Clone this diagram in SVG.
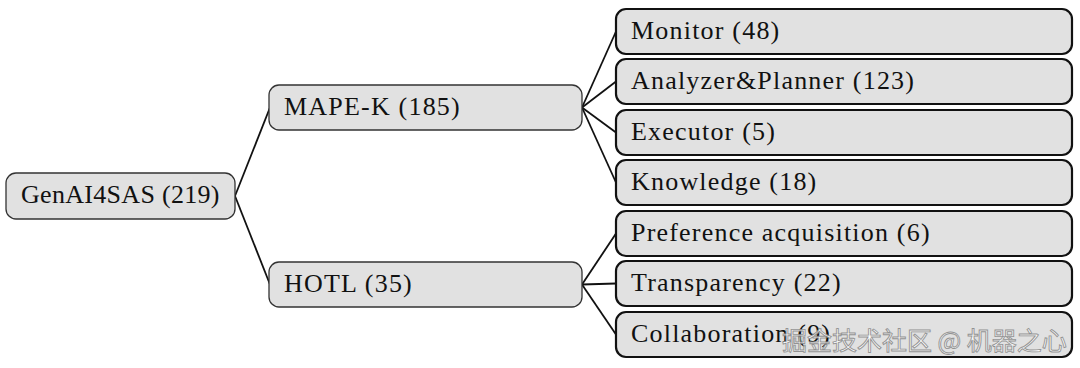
<svg xmlns="http://www.w3.org/2000/svg" width="1080" height="368" viewBox="0 0 1080 368">
<style>
.bg{fill:#ffffff}
.n1{fill:#e1e1e1;stroke:#333333;stroke-width:1.3}
.n2{fill:#e1e1e1;stroke:#111111;stroke-width:2.2}
.t{font-family:"Liberation Serif","Times New Roman",serif;font-size:26px;fill:#111111;letter-spacing:1.2px}
.c{stroke:#111111;stroke-width:1.8;fill:none}
.wm{font-family:"Noto Sans CJK SC","Noto Sans",sans-serif;font-size:25px;fill:#ffffff;stroke:#8a8a8a;stroke-width:0.9;opacity:0.9}
</style>
<rect class="bg" x="0" y="0" width="1080" height="368"/>
<g id="connectors">
<path class="c" d="M235 196 L270 107.5"/>
<path class="c" d="M235 196 L270 284.5"/>
<path class="c" d="M582 107.5 L616 31.5"/>
<path class="c" d="M582 107.5 L616 81.5"/>
<path class="c" d="M582 107.5 L616 132.5"/>
<path class="c" d="M582 107.5 L616 182.5"/>
<path class="c" d="M582 284.5 L616 233.5"/>
<path class="c" d="M582 284.5 L616 283.5"/>
<path class="c" d="M582 284.5 L616 334.5"/>
</g>
<g id="root"><rect class="n1" x="6" y="173" width="229" height="46" rx="10"/><text class="t" x="21" y="203" style="letter-spacing:0.3px">GenAI4SAS (219)</text></g>
<g id="mapek"><rect class="n1" x="269" y="85" width="313" height="45" rx="10"/><text class="t" x="284" y="115">MAPE-K (185)</text></g>
<g id="hotl"><rect class="n1" x="269" y="262" width="313" height="45" rx="10"/><text class="t" x="284" y="292">HOTL (35)</text></g>
<g id="monitor"><rect class="n2" x="616" y="9" width="456" height="45" rx="10"/><text class="t" x="631" y="38.5">Monitor (48)</text></g>
<g id="analyzer"><rect class="n2" x="616" y="59" width="456" height="45" rx="10"/><text class="t" x="631" y="88.5">Analyzer&amp;Planner (123)</text></g>
<g id="executor"><rect class="n2" x="616" y="110" width="456" height="45" rx="10"/><text class="t" x="631" y="139.5">Executor (5)</text></g>
<g id="knowledge"><rect class="n2" x="616" y="160" width="456" height="45" rx="10"/><text class="t" x="631" y="189.5">Knowledge (18)</text></g>
<g id="preference"><rect class="n2" x="616" y="211" width="456" height="45" rx="10"/><text class="t" x="631" y="240.5">Preference acquisition (6)</text></g>
<g id="transparency"><rect class="n2" x="616" y="261" width="456" height="45" rx="10"/><text class="t" x="631" y="290.5">Transparency (22)</text></g>
<g id="collaboration"><rect class="n2" x="616" y="312" width="456" height="45" rx="10"/><text class="t" x="631" y="341.5">Collaboration (9)</text></g>
<text class="wm" x="782" y="350">掘金技术社区 @ 机器之心</text>
</svg>
